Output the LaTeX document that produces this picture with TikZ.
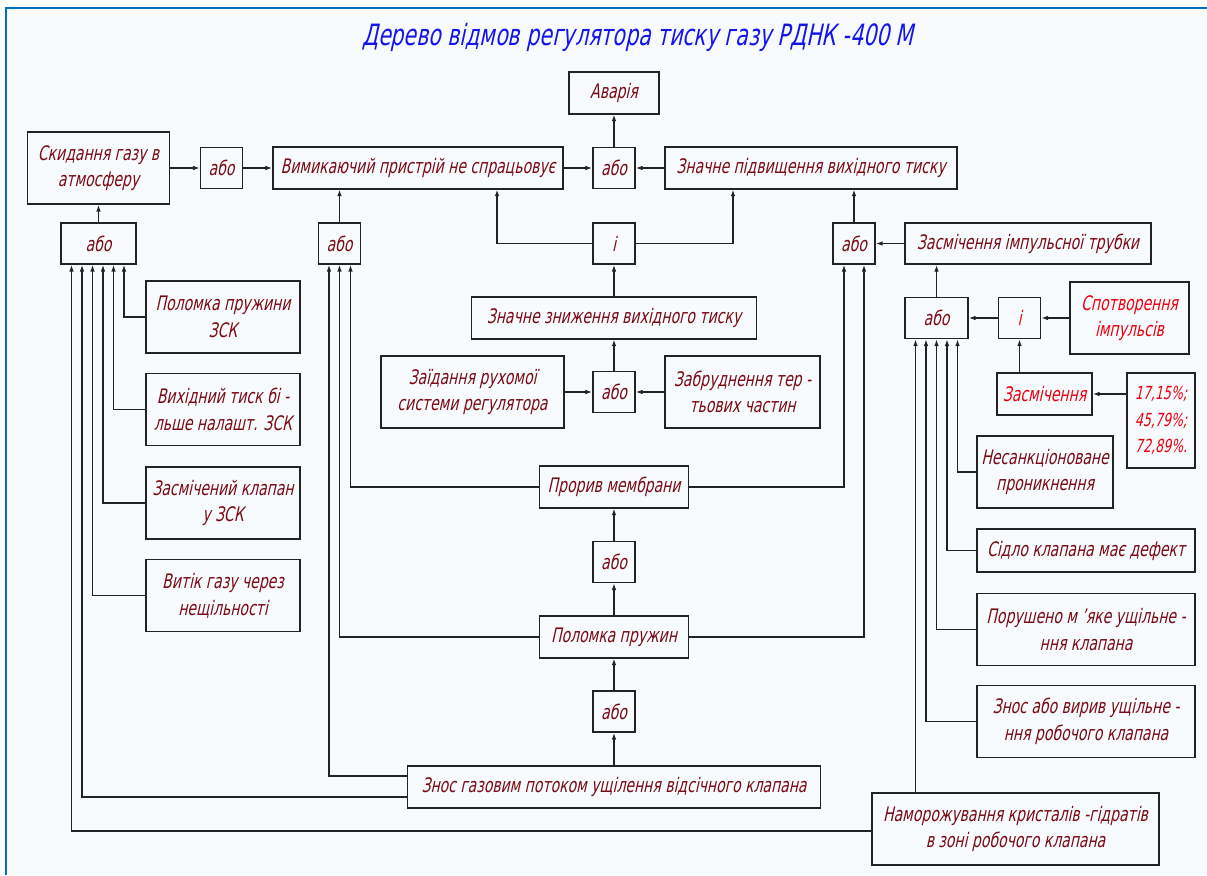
\documentclass[tikz,border=0pt]{standalone}
\usepackage{fontspec}
\usepackage{tikz}
\usetikzlibrary{arrows.meta}
\newfontfamily\gost[FakeSlant=0.22,FakeStretch=0.7]{DejaVu Sans}

\definecolor{txtc}{RGB}{122,10,20}
\definecolor{redc}{RGB}{235,0,15}
\definecolor{ttlc}{RGB}{20,20,235}
\definecolor{linec}{RGB}{35,35,35}
\definecolor{framec}{RGB}{0,112,192}
\definecolor{bgc}{RGB}{247,251,253}

\begin{document}
\begin{tikzpicture}[x=0.75pt, y=-0.75pt,
    every node/.style={font=\gost\fontsize{15}{20}\selectfont},
    ev/.style={rectangle, draw=linec, line width=1.35pt, text=txtc,
               align=center, inner sep=1pt},
    rd/.style={ev, text=redc},
    gt/.style={ev, minimum width=31.5pt, minimum height=30.75pt},
    h1/.style={minimum height=31pt},
    h2/.style={minimum height=54pt},
    e/.style={draw=linec, line width=0.95pt, -{Latex[length=5pt,width=3.5pt]}},
  ]
  \useasboundingbox (0,0) rectangle (1207,875);
  \fill[bgc] (6,8) rectangle (1207,875);
  \draw[framec, line width=1.6pt] (6,875) -- (6,8) -- (1207,8);

  \node[text=ttlc, font=\gost\fontsize{22}{24}\selectfont] (title) at (638,37)
    {Дерево відмов регулятора тиску газу РДНК -400 М};

  % top level
  \node[ev, h1, minimum width=67.5pt] (avar) at (614,93) {Аварія};
  \node[ev, h2, minimum width=106.5pt] (skyd) at (98.5,168) {Скидання газу в\\атмосферу};
  \node[gt] (orT1) at (221.5,168) {або};
  \node[ev, h1, minimum width=217.5pt] (vymk) at (418,168) {Вимикаючий пристрій не спрацьовує};
  \node[gt] (orT2) at (614,168) {або};
  \node[ev, h1, minimum width=219pt] (pidv) at (811,168) {Значне підвищення вихідного тиску};

  % second row
  \node[gt, minimum width=56.25pt] (orL) at (98.5,243.5) {або};
  \node[gt] (orB) at (339.5,243.5) {або};
  \node[gt] (andC) at (614,243.5) {і};
  \node[gt] (orR) at (854,243.5) {або};
  \node[ev, h1, minimum width=184.5pt] (zasT) at (1028,243.5) {Засмічення імпульсної трубки};

  % centre column
  \node[ev, h1, minimum width=213.75pt] (znyz) at (614,318) {Значне зниження вихідного тиску};
  \node[ev, h2, minimum width=137.25pt] (zaid) at (472.5,392) {Заїдання рухомої\\системи регулятора};
  \node[gt] (orM) at (614,392) {або};
  \node[ev, h2, minimum width=116.25pt] (zabr) at (742.5,392) {Забруднення тер -\\тьових частин};
  \node[ev, h1, minimum width=111.75pt] (prom) at (614,487) {Прорив мембрани};
  \node[gt] (orP) at (614,562) {або};
  \node[ev, h1, minimum width=111.75pt] (polp) at (614,637) {Поломка пружин};
  \node[gt] (orZ) at (614,711.5) {або};
  \node[ev, h1, minimum width=309.75pt] (znos) at (614,787) {Знос газовим потоком ущілення відсічного клапана};
  \node[ev, h2, minimum width=215.25pt] (namr) at (1015.5,829) {Наморожування кристалів -гідратів\\в зоні робочого клапана};

  % left column
  \node[ev, h2, minimum width=115.5pt] (pzsk) at (223,317) {Поломка пружини\\ЗСК};
  \node[ev, h2, minimum width=115.5pt] (vykh) at (223,409.5) {Вихідний тиск бі -\\льше налашт. ЗСК};
  \node[ev, h2, minimum width=115.5pt] (zkzs) at (223,503) {Засмічений клапан\\у ЗСК};
  \node[ev, h2, minimum width=115.5pt] (vytk) at (223,595.5) {Витік газу через\\нещільності};

  % right column
  \node[gt, minimum width=47.25pt] (orS) at (936.5,318) {або};
  \node[gt, text=redc] (andS) at (1019.5,318) {і};
  \node[rd, h2, minimum width=89.25pt] (spot) at (1129.5,318) {Спотворення\\імпульсів};
  \node[rd, h1, minimum width=71.25pt] (zasm) at (1044.5,394) {Засмічення};
  \node[rd, minimum width=51pt, minimum height=71.25pt, inner sep=0pt,
        font=\gost\fontsize{13.5}{20}\selectfont] (perc) at (1161,420.5) {17,15\%;\\45,79\%;\\72,89\%.};
  \node[ev, h2, minimum width=102pt] (nesn) at (1045,472) {Несанкціоноване\\проникнення};
  \node[ev, h1, minimum width=163.5pt, minimum height=32.25pt] (sidl) at (1086,550.5) {Сідло клапана має дефект};
  \node[ev, h2, minimum width=163.5pt] (porw) at (1086,629.5) {Порушено м ’яке ущільне -\\ння клапана};
  \node[ev, h2, minimum width=163.5pt] (znvr) at (1086,721.5) {Знос або вирив ущільне -\\ння робочого клапана};

  \coordinate (s1) at ([shift={(-21,0)}]orS.south);

  % connectors
  \draw[e] (orT2) -- (avar);
  \draw[e] (vymk) -- (orT2);
  \draw[e] (pidv) -- (orT2);
  \draw[e] (skyd) -- (orT1);
  \draw[e] (orT1) -- (vymk);
  \draw[e] (orL) -- (skyd);
  \draw[e] (orB) -- (orB |- vymk.south);
  \draw[e] (andC.west) -| ([shift={(79,0)}]vymk.south);
  \draw[e] (andC.east) -| ([shift={(-78,0)}]pidv.south);
  \draw[e] (znyz) -- (andC);
  \draw[e] (orM) -- (znyz);
  \draw[e] (zaid) -- (orM);
  \draw[e] (zabr) -- (orM);
  \draw[e] (orR) -- (orR |- pidv.south);
  \draw[e] (zasT) -- (orR);
  \draw[e] (orS) -- (orS |- zasT.south);
  \draw[e] (andS) -- (orS);
  \draw[e] (spot) -- (andS);
  \draw[e] (andS |- zasm.north) -- (andS);
  \draw[e] (perc.west |- zasm) -- (zasm);
  \draw[e] (orP) -- (prom);
  \draw[e] (polp) -- (orP);
  \draw[e] (orZ) -- (polp);
  \draw[e] (znos) -- (orZ);

  \draw[e] (pzsk.west) -| ([shift={(25.5,0)}]orL.south);
  \draw[e] (vykh.west) -| ([shift={(15,0)}]orL.south);
  \draw[e] (zkzs.west) -| ([shift={(4.5,0)}]orL.south);
  \draw[e] (vytk.west) -| ([shift={(-6,0)}]orL.south);
  \draw[e] ([shift={(0,10)}]znos.west) -| ([shift={(-16.5,0)}]orL.south);
  \draw[e] ([shift={(0,2)}]namr.west) -| ([shift={(-27,0)}]orL.south);

  \draw[e] (prom.west) -| ([shift={(11,0)}]orB.south);
  \draw[e] (polp.west) -| (orB.south);
  \draw[e] ([shift={(0,-11)}]znos.west) -| ([shift={(-10.5,0)}]orB.south);
  \draw[e] (prom.east) -| ([shift={(-10,0)}]orR.south);
  \draw[e] (polp.east) -| ([shift={(10,0)}]orR.south);

  \draw[e] (nesn.west) -| ([shift={(21,0)}]orS.south);
  \draw[e] (sidl.west) -| ([shift={(10.5,0)}]orS.south);
  \draw[e] (porw.west) -| (orS.south);
  \draw[e] (znvr.west) -| ([shift={(-10.5,0)}]orS.south);
  \draw[e] (s1 |- namr.north) -- (s1);
\end{tikzpicture}
\end{document}
